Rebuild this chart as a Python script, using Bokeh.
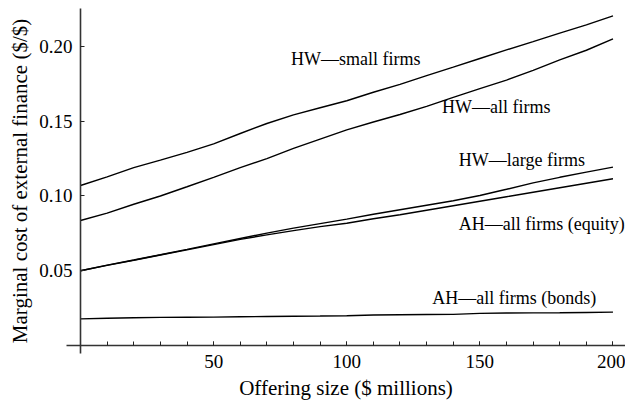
from bokeh.plotting import figure
from bokeh.models import Range1d, FixedTicker, PrintfTickFormatter, ColumnDataSource
from bokeh.core.properties import value
from bokeh.embed import file_html
from bokeh.resources import INLINE

# Offering size ($ millions)
offering = [0, 10, 20, 30, 40, 50, 60, 70, 80, 90, 100,
            110, 120, 130, 140, 150, 160, 170, 180, 190, 200]

# Marginal cost of external finance ($/$) for each estimate
hw_small = [0.1070, 0.1128, 0.1190, 0.1240, 0.1292, 0.1349, 0.1418, 0.1485, 0.1543, 0.1590, 0.1637,
            0.1694, 0.1747, 0.1805, 0.1862, 0.1920, 0.1977, 0.2033, 0.2090, 0.2145, 0.2205]
hw_all = [0.0836, 0.0885, 0.0945, 0.1000, 0.1062, 0.1125, 0.1190, 0.1250, 0.1318, 0.1380, 0.1442,
          0.1495, 0.1545, 0.1600, 0.1660, 0.1718, 0.1775, 0.1840, 0.1910, 0.1975, 0.2051]
hw_large = [0.0500, 0.0538, 0.0572, 0.0607, 0.0643, 0.0680, 0.0716, 0.0752, 0.0785, 0.0815, 0.0845,
            0.0878, 0.0908, 0.0938, 0.0968, 0.1003, 0.1045, 0.1088, 0.1125, 0.1160, 0.1193]
ah_equity = [0.0500, 0.0536, 0.0570, 0.0605, 0.0640, 0.0675, 0.0710, 0.0740, 0.0768, 0.0795, 0.0818,
             0.0848, 0.0875, 0.0905, 0.0935, 0.0965, 0.0995, 0.1025, 0.1055, 0.1085, 0.1115]
ah_bonds = [0.0178, 0.0182, 0.0186, 0.0188, 0.0189, 0.0190, 0.0192, 0.0194, 0.0196, 0.0197, 0.0199,
            0.0204, 0.0206, 0.0207, 0.0208, 0.0215, 0.0217, 0.0218, 0.0219, 0.0221, 0.0223]

series_names = ["HW\u2014small firms", "HW\u2014all firms", "HW\u2014large firms",
                "AH\u2014all firms (equity)", "AH\u2014all firms (bonds)"]

x_ticks = [50, 100, 150, 200]
x_minor_ticks = [10, 20, 30, 40, 50, 60, 70, 80, 90, 100,
                 110, 120, 130, 140, 150, 160, 170, 180, 190, 200]
y_ticks = [0.05, 0.10, 0.15, 0.20]

FONT = "Liberation Serif"

# The frame fills the whole canvas; the axes sit at the origin and
# their lines are limited with bounds.
p = figure(width=625, height=403,
           x_range=Range1d(-30.05, 204.7), y_range=Range1d(-0.0388, 0.23077),
           min_border_left=0, min_border_right=0, min_border_top=0, min_border_bottom=0,
           output_backend="svg", toolbar_location=None)

p.outline_line_color = None
p.xgrid.visible = False
p.ygrid.visible = False
p.background_fill_color = "white"
p.border_fill_color = "white"

p.xaxis.fixed_location = 0
p.yaxis.fixed_location = 0
p.xaxis.bounds = (-5.26, 204.7)
p.yaxis.bounds = (-0.00535, 0.2254)

for ax in (p.xaxis, p.yaxis):
    ax.axis_line_color = "#333333"
    ax.axis_line_width = 1.6
    ax.major_tick_line_color = "#222222"
    ax.minor_tick_line_color = "#222222"
    ax.major_tick_in = 4
    ax.major_tick_out = 0
    ax.minor_tick_in = 4
    ax.minor_tick_out = 0
    ax.major_label_text_font = FONT
    ax.major_label_text_font_size = "19px"
    ax.major_label_text_color = "black"
    ax.axis_label_text_font = FONT
    ax.axis_label_text_font_size = "21px"
    ax.axis_label_text_font_style = "normal"
    ax.axis_label_text_color = "black"

p.xaxis.ticker = FixedTicker(ticks=x_ticks, minor_ticks=x_minor_ticks)
p.yaxis.ticker = FixedTicker(ticks=y_ticks, minor_ticks=[])
p.yaxis.formatter = PrintfTickFormatter(format="%.2f")
p.xaxis.major_label_standoff = 10
p.yaxis.major_label_standoff = 8
p.xaxis.axis_label = "Offering size ($ millions)"
p.yaxis.axis_label = "Marginal cost of external finance ($/$)"
p.xaxis.axis_label_standoff = 4
p.yaxis.axis_label_standoff = 4

for ys in (hw_small, hw_all, hw_large, ah_equity, ah_bonds):
    p.line(offering, ys, line_color="black", line_width=1.4)

# Curve labels
label_x = [79.1, 135.8, 142.1, 142.1, 132.1]
label_y = [0.1916, 0.1592, 0.1241, 0.0816, 0.0321]
src = ColumnDataSource(dict(x=label_x, y=label_y, text=series_names))
p.text(x="x", y="y", text="text", source=src,
       text_font=value(FONT), text_font_size="18px", text_color="black",
       text_align="left", text_baseline="middle")

open("out.html", "w").write(file_html(p, INLINE))
